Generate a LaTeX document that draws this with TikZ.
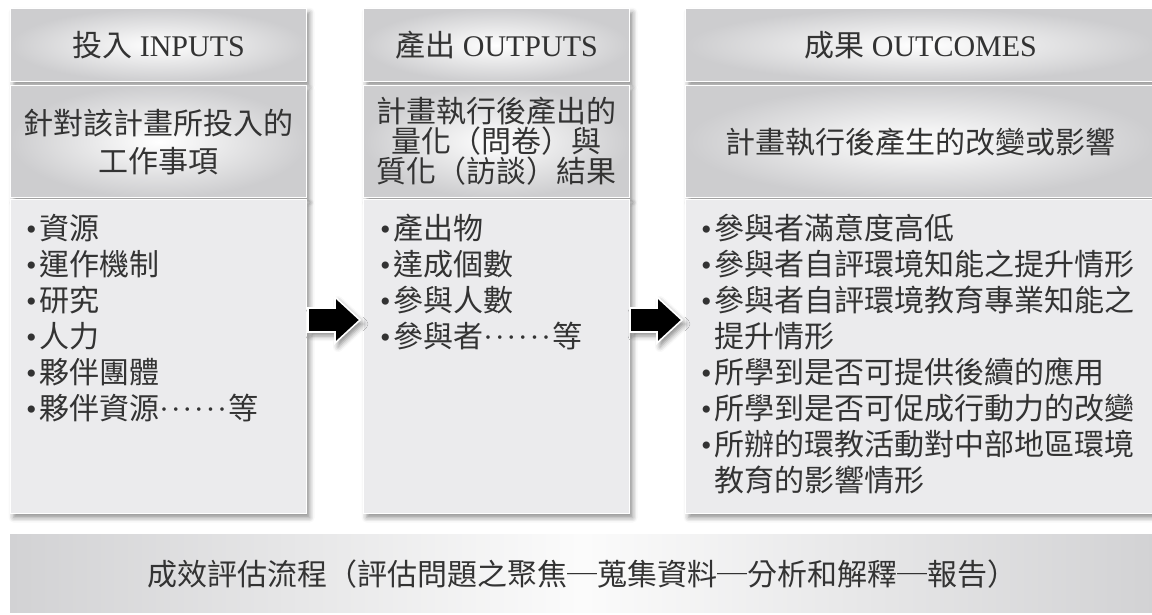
\documentclass[tikz,border=0pt]{standalone}
\usepackage{fontspec}
\setmainfont{Liberation Serif}
\newfontfamily\cjk{Noto Sans CJK TC}
\usetikzlibrary{shadows.blur}
\definecolor{txt}{HTML}{333333}
\definecolor{hdrgray}{HTML}{CDCDCF}
\definecolor{bodygray}{HTML}{EBEBED}
\definecolor{bargray}{HTML}{D2D2D4}
\newcommand\bul{{\rmfamily •}\kern2.5pt}
\newcommand\mydots{{\rmfamily ·\kern1.6pt·\kern1.6pt·\kern1.6pt·\kern1.6pt·\kern1.6pt·\kern1pt}}
\tikzset{
  shad/.style={blur shadow={shadow xshift=3pt,shadow yshift=-4pt,shadow blur radius=5pt,shadow opacity=45}},
  hdrbox/.style={rectangle,anchor=north west,draw=white,line width=1.2pt,inner color=white,outer color=hdrgray,shad,text=txt,align=center,inner sep=0pt},
  bodybox/.style={rectangle,anchor=north west,draw=white,line width=1.2pt,fill=bodygray,shad,inner sep=0pt},
  barbox/.style={rectangle,anchor=north west,draw=white,line width=1.2pt,left color=bargray,right color=bargray,middle color=white!97!gray,inner sep=0pt,text=txt},
  hfont/.style={font=\fontsize{30}{34}\selectfont},
  tfont/.style={font=\cjk\fontsize{30}{36}\selectfont},
  listtxt/.style={anchor=north west,inner sep=0pt,text=txt,align=left,font=\cjk\fontsize{30}{36}\selectfont},
  bigarrow/.style={fill=black,draw=white,line width=1.6pt,line join=miter,shad}
}
\begin{document}
\begin{tikzpicture}[x=1pt,y=-1pt]
\useasboundingbox (0,0) rectangle (1152,615);
% column 1
\node[hdrbox,hfont,minimum width=296pt,minimum height=73pt] (h1) at (10,8) {{\cjk 投入} INPUTS};
\node[hdrbox,minimum width=296pt,minimum height=112pt,font=\cjk\fontsize{30}{38}\selectfont] (s1) at (10,85) {針對該計畫所投入的\\工作事項};
\node[bodybox,minimum width=296pt,minimum height=314pt] (b1) at (10,199) {};
\node[listtxt] (l1) at (26,214) {\bul 資源\\\bul 運作機制\\\bul 研究\\\bul 人力\\\bul 夥伴團體\\\bul 夥伴資源\mydots 等};
% column 2
\node[hdrbox,hfont,minimum width=266pt,minimum height=73pt] (h2) at (363,8) {{\cjk 產出} OUTPUTS};
\node[hdrbox,minimum width=266pt,minimum height=112pt,font=\cjk\fontsize{30}{30}\selectfont] (s2) at (363,85) {計畫執行後產出的\\量化（問卷）與\\質化（訪談）結果};
\node[bodybox,minimum width=266pt,minimum height=314pt] (b2) at (363,199) {};
\node[listtxt] (l2) at (380,214) {\bul 產出物\\\bul 達成個數\\\bul 參與人數\\\bul 參與者\mydots 等};
% column 3
\node[hdrbox,hfont,minimum width=470pt,minimum height=73pt] (h3) at (685,8) {{\cjk 成果} OUTCOMES};
\node[hdrbox,tfont,minimum width=470pt,minimum height=112pt] (s3) at (685,85) {計畫執行後產生的改變或影響};
\node[bodybox,minimum width=470pt,minimum height=314pt] (b3) at (685,199) {};
\node[listtxt] (l3) at (701,214) {\bul 參與者滿意度高低\\\bul 參與者自評環境知能之提升情形\\\bul 參與者自評環境教育專業知能之\\\phantom{\bul}提升情形\\\bul 所學到是否可提供後續的應用\\\bul 所學到是否可促成行動力的改變\\\bul 所辦的環教活動對中部地區環境\\\phantom{\bul}教育的影響情形};
% arrows
\coordinate (a1) at (334,320);
\coordinate (a2) at (656,320);
\foreach \c in {a1,a2}{
  \draw[bigarrow] ([shift={(-26,-12)}]\c) -- ++(27,0) -- ++(0,-11) -- ++(25,23) -- ++(-25,23) -- ++(0,-11) -- ++(-27,0) -- cycle;
}
% bottom bar
\node[barbox,minimum width=1146pt,minimum height=80pt,font=\cjk\fontsize{30}{34}\selectfont] (bar) at (9,533) {成效評估流程（評估問題之聚焦─蒐集資料─分析和解釋─報告）};
\end{tikzpicture}
\end{document}
